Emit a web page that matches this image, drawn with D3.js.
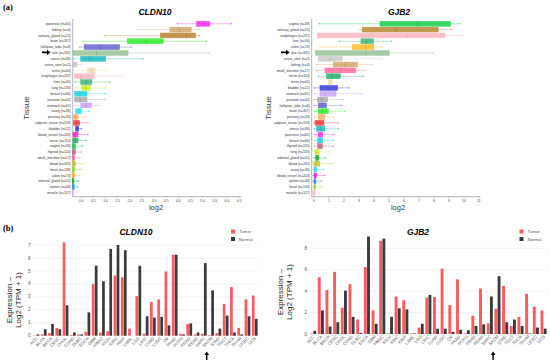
<!DOCTYPE html>
<html>
<head>
<meta charset="utf-8">
<script src="https://cdn.jsdelivr.net/npm/d3@7"></script>
<style>
  body { margin: 0; background: #fff; }
  svg { display: block; font-family: "Liberation Sans", Arial, sans-serif; }
</style>
</head>
<body>
<svg width="550" height="364"></svg>
<script>
// ---- data ----
const tissueNames  = ["pancreas","kidney","salivary_gland","brain","fallopian_tube","skin","uterus","cervix_uteri","testis","esophagus","liver","lung","breast","prostate","stomach","ovary","pituitary","adipose_tissue","bladder","blood_vessel","nerve","vagina","thyroid","small_intestine","blood","heart","colon","adrenal_gland","spleen","muscle"];
const tissueCounts = [65,4,15,357,6,332,36,5,60,237,34,133,66,42,61,36,33,159,11,203,114,33,120,17,245,133,74,52,34,157];
const tissueColors = ["#ff22ee","#d2a46c","#b5832e","#22ee22","#5f5fcc","#93c093","#10b8b8","#c8c8c8","#f3dcae","#ffb4bf","#3cb371","#cbec22","#10d4e0","#a9a9a9","#c9a0f5","#22e4f2","#ffaa66","#ee3333","#3333dd","#ee22cc","#22aa66","#11cc44","#bb6677","#ff6699","#c8c822","#99dd33","#ffb822","#11aa22","#1e90ff","#f7c0d8"];

// CLDN10 box stats per tissue (order of plot): [lowWhisker, q1, median, q3, highWhisker] in log2
const cldnOrder = ["pancreas","kidney","salivary_gland","brain","fallopian_tube","skin","uterus","cervix_uteri","testis","esophagus","liver","lung","breast","prostate","stomach","ovary","pituitary","adipose_tissue","bladder","blood_vessel","nerve","vagina","thyroid","small_intestine","blood","heart","colon","adrenal_gland","spleen","muscle"];
const cldnStats = [
  [3.97,4.75,5.04,5.29,6.19],[2.33,3.65,4.05,4.53,4.88],[0.97,3.26,4.33,4.71,4.88],[0.07,1.90,2.68,3.38,5.15],
  [-0.06,0.12,0.76,1.58,2.07],[-0.34,-0.34,0.63,1.93,5.26],[-0.31,-0.02,0.35,1.01,2.54],[-0.36,-0.36,-0.30,-0.17,0.00],
  [-0.27,0.26,0.42,0.58,1.04],[-0.27,-0.27,0.01,0.53,1.72],[-0.27,-0.02,0.21,0.44,1.17],[-0.23,0.01,0.19,0.39,1.01],
  [-0.27,-0.27,-0.06,0.24,1.01],[-0.27,-0.27,-0.05,0.24,0.97],[-0.27,-0.02,0.20,0.42,0.69],[-0.23,-0.23,-0.10,0.02,0.32],
  [-0.31,-0.31,-0.25,-0.13,0.14],[-0.31,-0.31,-0.20,-0.06,0.28],[-0.23,-0.23,-0.15,-0.10,0.01],[-0.34,-0.34,-0.25,-0.13,0.28],
  [-0.34,-0.34,-0.25,-0.13,0.21],[-0.36,-0.36,-0.30,-0.23,0.05],[-0.36,-0.36,-0.30,-0.23,0.00],[-0.36,-0.36,-0.32,-0.27,-0.06],
  [-0.36,-0.36,-0.30,-0.23,0.05],[-0.36,-0.36,-0.31,-0.26,0.00],[-0.36,-0.36,-0.32,-0.27,-0.06],[-0.36,-0.36,-0.33,-0.30,-0.12],
  [-0.36,-0.36,-0.33,-0.29,-0.15],[-0.36,-0.36,-0.34,-0.31,-0.20]
];
const cldnTicks = [0,0.5,1,1.5,2,2.5,3,3.5,4,4.5,5,5.5,6,6.5];

// GJB2 box stats
const gjbOrder = ["vagina","salivary_gland","esophagus","liver","colon","skin","cervix_uteri","kidney","small_intestine","nerve","testis","bladder","stomach","prostate","fallopian_tube","brain","pituitary","adipose_tissue","uterus","pancreas","breast","thyroid","lung","adrenal_gland","blood","ovary","blood_vessel","spleen","heart","muscle"];
const gjbStats = [
  [0.35,4.40,6.89,9.10,9.73],[3.07,3.22,5.47,8.29,9.18],[0.22,0.22,6.20,8.73,9.95],[1.69,3.13,3.51,3.98,5.18],
  [0.40,2.55,3.45,4.00,4.51],[0.11,0.11,3.45,5.02,7.95],[0.29,0.29,1.07,1.91,4.47],[0.18,1.29,2.07,2.91,3.85],
  [0.14,0.73,1.80,2.78,3.40],[0.29,0.84,1.22,1.75,3.29],[0.62,0.96,1.08,1.22,1.51],[0.02,0.40,0.95,1.58,2.33],
  [0.02,0.40,0.73,1.47,3.18],[0.02,0.22,0.51,0.91,1.95],[0.02,0.29,0.55,0.84,1.84],[0.02,0.29,0.55,0.96,2.07],
  [0.02,0.29,0.50,0.73,1.29],[0.00,0.07,0.40,0.67,1.62],[0.02,0.18,0.45,0.73,1.62],[0.02,0.29,0.42,0.58,1.29],
  [0.02,0.24,0.40,0.58,1.29],[0.02,0.24,0.40,0.58,1.29],[0.00,0.07,0.20,0.36,0.96],[0.00,0.11,0.20,0.33,0.78],
  [-0.05,0.00,0.15,0.40,1.18],[-0.05,0.00,0.08,0.18,0.62],[-0.05,0.00,0.08,0.18,0.73],[-0.05,0.00,0.06,0.13,0.51],
  [-0.05,0.00,0.05,0.12,0.51],[-0.10,-0.07,0.00,0.07,0.40]
];
const gjbTicks = [0,1,2,3,4,5,6,7,8,9,10,11];

// TCGA expression (log2 TPM+1)
const cancers = ["ACC","BLCA","BRCA","CESC","CHOL","COAD","DLBC","ESCA","GBM","HNSC","KICH","KIRC","KIRP","LAML","LGG","LIHC","LUAD","LUSC","OV","PAAD","PCPG","PRAD","READ","SARC","SKCM","STAD","TGCT","THCA","THYM","UCEC","UCS"];
const cldnTumor  = [0.02,0.10,0.20,0.60,7.20,0.05,0.10,0.30,4.00,0.25,0.35,4.65,4.50,0.55,3.05,0.15,2.60,2.80,4.95,6.25,0.15,0.90,0.10,0.15,0.05,0.20,2.45,3.75,0.60,2.80,3.10];
const cldnNormal = [0.10,0.50,0.90,0.50,2.35,0.25,0.10,1.80,5.40,4.20,6.70,7.00,6.60,0.00,5.40,1.50,1.40,1.45,0.80,6.25,0.10,0.95,0.25,5.60,3.50,0.55,1.55,0.25,0.10,1.50,1.30];
const gjbTumor   = [0.05,5.30,4.10,5.80,2.45,4.65,1.35,6.25,2.20,8.70,0.05,3.50,3.15,0.05,0.60,3.40,3.45,6.10,2.70,5.10,0.05,1.70,4.25,1.00,2.35,4.50,0.75,1.60,3.75,2.55,2.20];
const gjbNormal  = [0.30,2.20,0.70,1.10,4.05,1.60,0.10,9.10,0.95,8.90,1.60,2.40,2.30,0.05,0.95,3.65,0.50,0.50,0.20,0.40,0.35,0.75,0.90,3.50,5.40,1.10,1.35,0.75,0.05,0.60,0.50];
const cldnBarTicks = [0,1,2,3,4,5,6,7];
const gjbBarTicks  = [0,2,4,6,8];

const seriesNames  = ["Tumor","Normal"];
const seriesColors = ["#fb5a5f","#3b3b3b"];

// ---- drawing ----
const svg = d3.select("svg");
const colorOf = d3.scaleOrdinal().domain(tissueNames).range(tissueColors);
const countOf = new Map(tissueNames.map((t, i) => [t, tissueCounts[i]]));

svg.append("text").attr("x", 3).attr("y", 10).attr("font-family", "Liberation Serif, serif")
  .attr("font-weight", "bold").attr("font-size", 8.5).text("(a)");
svg.append("text").attr("x", 3).attr("y", 231).attr("font-family", "Liberation Serif, serif")
  .attr("font-weight", "bold").attr("font-size", 8.5).text("(b)");

function arrowRight(x, y) {
  svg.append("path").attr("d", `M${x},${y - 0.8}h5v-1.8l3.6,2.6l-3.6,2.6v-1.8h-5z`).attr("fill", "#000");
}
function arrowUp(x, y) {
  svg.append("path").attr("d", `M${x - 0.7},${y + 8}v-5h-1.6l2.3,-3.4l2.3,3.4h-1.6v5z`).attr("fill", "#000");
}

function drawBoxes(o) {
  const g = svg.append("g");
  const y = d3.scaleBand().domain(o.order).range([20.4, 196.2]).padding(0.16);
  const x = d3.scaleLinear().domain(o.domain).range(o.range);
  const axisY = 196.7;

  // title
  g.append("text").attr("x", o.titleX).attr("y", 15).attr("text-anchor", "middle")
    .attr("font-weight", "bold").attr("font-style", "italic").attr("font-size", 8.5).text(o.title);

  // axes
  g.append("line").attr("x1", o.range[0]).attr("x2", o.range[0]).attr("y1", 19).attr("y2", axisY)
    .attr("stroke", "#888").attr("stroke-width", 0.6);
  g.append("line").attr("x1", o.range[0]).attr("x2", o.range[1]).attr("y1", axisY).attr("y2", axisY)
    .attr("stroke", "#888").attr("stroke-width", 0.6);

  o.ticks.forEach(t => {
    g.append("line").attr("x1", x(t)).attr("x2", x(t)).attr("y1", axisY).attr("y2", axisY + 1.2)
      .attr("stroke", "#888").attr("stroke-width", 0.5);
    g.append("text").attr("x", x(t)).attr("y", axisY + 4.8).attr("text-anchor", "middle")
      .attr("font-size", 3.4).attr("fill", "#444").text(o.fmt(t));
  });
  g.append("text").attr("x", o.xLabelX).attr("y", 210).attr("text-anchor", "middle")
    .attr("font-size", 7.5).attr("fill", "#333").text("log2");
  g.append("text").attr("transform", `translate(${o.tissueX},108) rotate(-90)`).attr("text-anchor", "middle")
    .attr("font-size", 8).attr("fill", "#333").text("Tissue");

  o.order.forEach((t, i) => {
    const s = o.stats[i];
    const c = colorOf(t);
    const cy = y(t) + y.bandwidth() / 2;
    g.append("text").attr("x", o.range[0] - 2).attr("y", cy + 1.2).attr("text-anchor", "end")
      .attr("font-size", 3.4).attr("fill", "#333").text(`${t} (n=${countOf.get(t)})`);
    g.append("line").attr("x1", x(s[0])).attr("x2", x(s[4])).attr("y1", cy).attr("y2", cy)
      .attr("stroke", c).attr("stroke-width", 0.6).attr("stroke-opacity", 0.6);
    [s[0], s[4]].forEach(v => g.append("circle").attr("cx", x(v)).attr("cy", cy).attr("r", 0.7)
      .attr("fill", c).attr("fill-opacity", 0.7));
    g.append("rect").attr("x", x(s[1])).attr("y", y(t)).attr("width", Math.max(1, x(s[3]) - x(s[1])))
      .attr("height", y.bandwidth()).attr("fill", c).attr("fill-opacity", 0.8)
      .attr("stroke", c).attr("stroke-width", 0.4);
    g.append("line").attr("x1", x(s[2])).attr("x2", x(s[2])).attr("y1", y(t)).attr("y2", y(t) + y.bandwidth())
      .attr("stroke", d3.color(c).darker(0.8)).attr("stroke-width", 0.5).attr("stroke-opacity", 0.7);
  });
}

drawBoxes({
  title: "CLDN10", titleX: 155, order: cldnOrder, stats: cldnStats,
  domain: [-0.35, 6.6], range: [72.7, 241.5], ticks: cldnTicks, fmt: d3.format(".1f"),
  xLabelX: 156, tissueX: 29
});
drawBoxes({
  title: "GJB2", titleX: 399, order: gjbOrder, stats: gjbStats,
  domain: [-0.15, 11.1], range: [311.7, 480.5], ticks: gjbTicks, fmt: d3.format("d"),
  xLabelX: 398, tissueX: 271
});
arrowRight(42, 52.4);
arrowRight(281, 52.4);

function drawBars(o) {
  const g = svg.append("g");
  const x = d3.scaleBand().domain(cancers).range(o.xRange).paddingInner(0.17).paddingOuter(0.08);
  const xs = d3.scaleBand().domain(seriesNames).range([0, x.bandwidth()]);
  const y = d3.scaleLinear().domain(o.yDomain).range(o.yRange);

  o.ticks.forEach(t => {
    g.append("line").attr("x1", o.xRange[0]).attr("x2", o.xRange[1]).attr("y1", y(t)).attr("y2", y(t))
      .attr("stroke", "#ebebeb").attr("stroke-width", 0.6);
    g.append("text").attr("x", o.xRange[0] - 2.5).attr("y", y(t) + 1.6).attr("text-anchor", "end")
      .attr("font-size", 4.5).attr("fill", "#555").text(t);
  });

  [o.tumor, o.normal].forEach((vals, si) => {
    g.selectAll(null).data(cancers).enter().append("rect")
      .attr("x", d => x(d) + xs(seriesNames[si]))
      .attr("y", (d, i) => y(vals[i]))
      .attr("width", xs.bandwidth() - 0.3)
      .attr("height", (d, i) => y(0) - y(vals[i]))
      .attr("fill", seriesColors[si]);
  });

  cancers.forEach(c => {
    const cx = x(c) + x.bandwidth() / 2;
    g.append("text").attr("transform", `translate(${cx + 1.5},${y(0) + 3}) rotate(-45)`)
      .attr("text-anchor", "end").attr("font-size", 4.3).attr("fill", "#555").text(c);
  });
  arrowUp(x("SKCM") + x.bandwidth() / 2 - 4.5, 352);

  g.append("text").attr("x", o.titleX).attr("y", 235).attr("text-anchor", "middle")
    .attr("font-weight", "bold").attr("font-style", "italic").attr("font-size", 8.5).text(o.title);

  g.append("text").attr("transform", `translate(${o.labX},${o.labY}) rotate(-90)`).attr("text-anchor", "middle")
    .attr("font-size", 8).attr("fill", "#222").text("Expression –");
  g.append("text").attr("transform", `translate(${o.labX + 9.5},${o.labY}) rotate(-90)`).attr("text-anchor", "middle")
    .attr("font-size", 8).attr("fill", "#222").text("Log2 (TPM + 1)");

  seriesNames.forEach((s, i) => {
    g.append("rect").attr("x", o.legX).attr("y", 229.5 + i * 7.5).attr("width", 4).attr("height", 4)
      .attr("fill", seriesColors[i]);
    g.append("text").attr("x", o.legX + 8).attr("y", 233 + i * 7.5).attr("font-size", 4.3)
      .attr("fill", "#555").text(s);
  });
}

drawBars({
  title: "CLDN10", titleX: 136, tumor: cldnTumor, normal: cldnNormal,
  xRange: [33, 258.5], yDomain: [0, 7], yRange: [335.7, 245], ticks: cldnBarTicks,
  labX: 11.5, labY: 300, legX: 231
});
drawBars({
  title: "GJB2", titleX: 418, tumor: gjbTumor, normal: gjbNormal,
  xRange: [309.5, 547.5], yDomain: [0, 8], yRange: [334, 248.3], ticks: gjbBarTicks,
  labX: 282.5, labY: 292, legX: 519.5
});
</script>
</body>
</html>
